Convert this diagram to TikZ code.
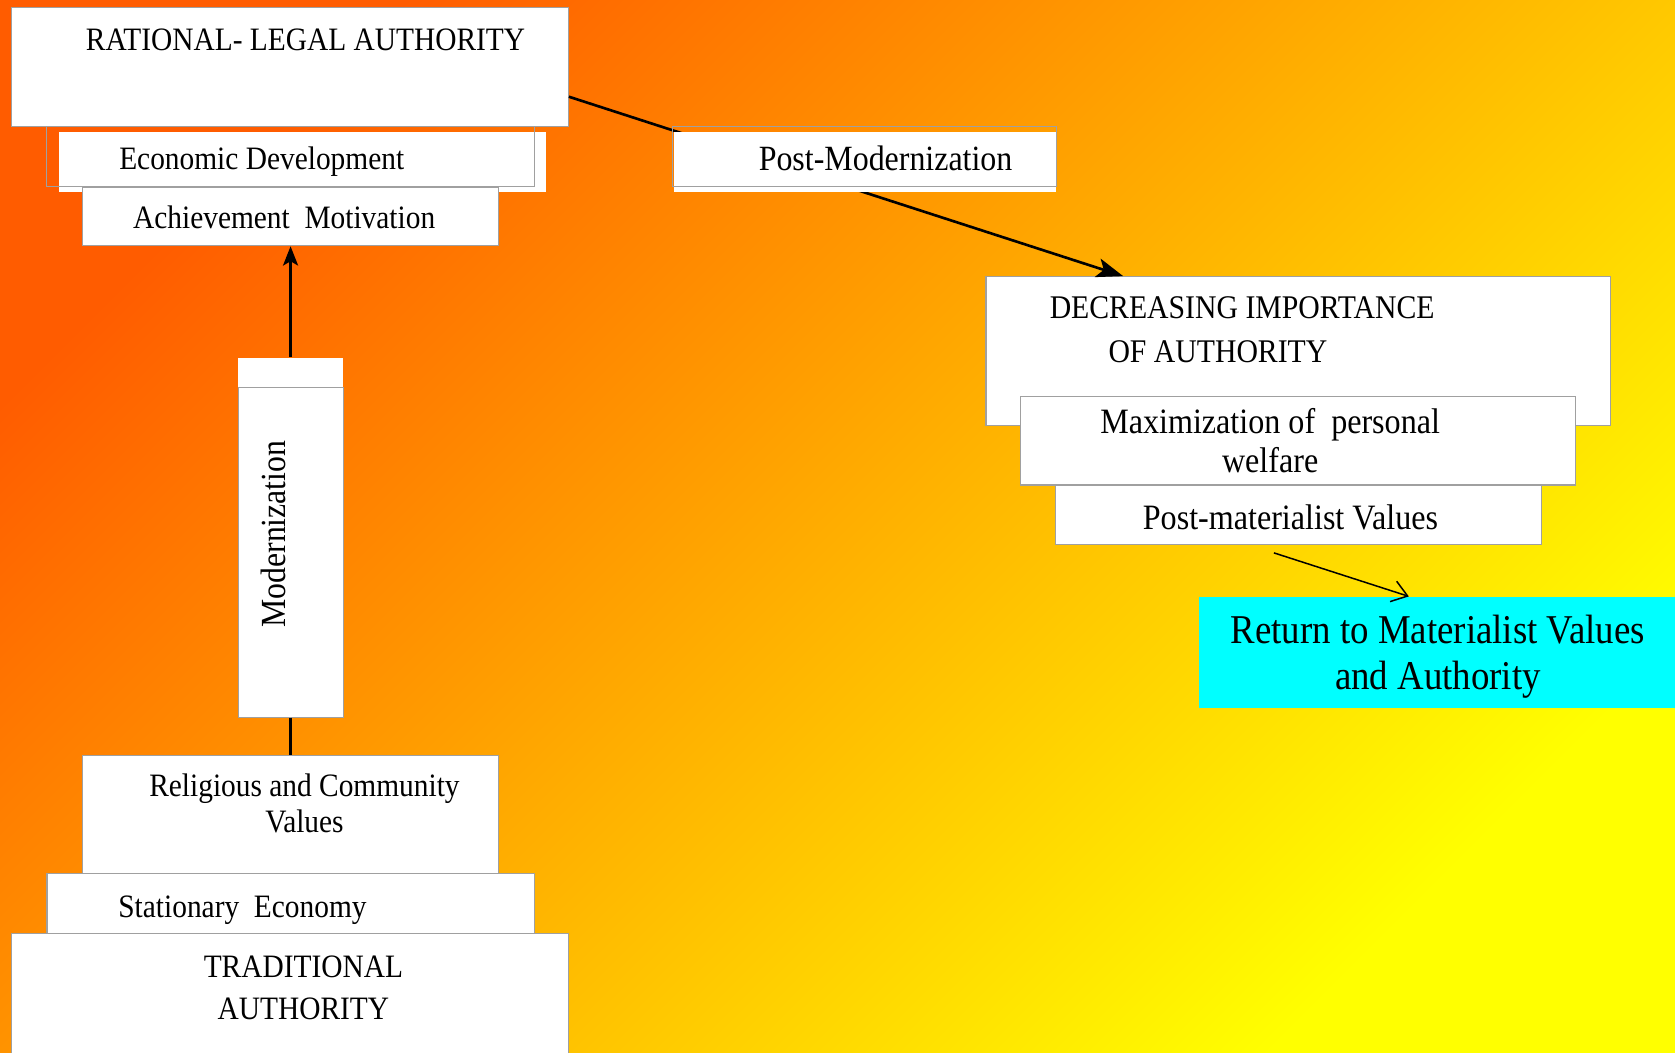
\documentclass[tikz,border=0pt]{standalone}
\usepackage{fontspec}
\setmainfont{Liberation Serif}[FakeStretch=0.9]
\usetikzlibrary{arrows.meta,calc,fit}
\definecolor{bgred}{HTML}{FF5C00}
\definecolor{bgmid}{HTML}{FFC000}
\definecolor{bgyellow}{HTML}{FFFF00}
\definecolor{rimgray}{HTML}{A0A0A0}
\definecolor{retcyan}{HTML}{00FFFF}

\begin{document}
\begin{tikzpicture}[x=0.1mm, y=-0.1mm,
		box/.style={fill=white, draw=rimgray, line width=0.3pt, inner sep=0pt},
		blank/.style={fill=white, inner sep=0pt},
		rim/.style={draw=rimgray, line width=0.3pt},
		lbl/.style={inner sep=0pt, anchor=base, align=center, font=\fontsize{8.7}{9.4}\selectfont},
		link/.style={line width=0.7pt}]
	\clip (0,0) rectangle (1568,985);
	\shade[top color=bgred, middle color=bgmid, bottom color=bgyellow, shading angle=45]
		(0,0) rectangle (1568,985);

	\node[box, fit={(11,7) (532,118)}] (rational) {};
	\node[lbl] (rationallbl) at (286,47) {RATIONAL- LEGAL AUTHORITY};

	\node[box, fit={(923,259) (1508,398)}] (decr) {};
	\node[lbl, anchor=base west, align=left, font=\fontsize{8.8}{11.7}\selectfont] (decrlbl) at (982,339)
		{DECREASING IMPORTANCE\\\hspace*{5.5mm}OF AUTHORITY};

	\draw[link, -{Stealth[length=2.5mm, width=1.8mm, inset=0.6mm]}]
		($(rational.south east)!0.25!(rational.north east)$) -- ($(decr.north west)!0.22!(decr.north east)$);

	\node[blank, fit={(631,124) (989,180)}] (postmod) {};
	\draw[rim] ($(postmod.north west)+(-1,-5)$) rectangle ($(postmod.south east)+(-1,-6)$);
	\node[lbl, font=\fontsize{9.45}{9.4}\selectfont] (postmodlbl) at (829,160) {Post-Modernization};

	\node[blank, fit={(55,124) (511,180)}] (econ) {};
	\draw[rim] ($(econ.north west)+(-11,-5)$) rectangle ($(econ.south east)+(-11,-6)$);
	\node[lbl] (econlbl) at (245,159) {Economic Development};

	\node[box, fit={(77,175) (467,230)}] (achieve) {};
	\node[lbl] (achievelbl) at (266,214) {Achievement\ \ Motivation};

	\node[blank, fit={(223,335) (321,671)}] (modern) {};
	\draw[rim] (223,363) rectangle (modern.south east);
	\node[lbl, anchor=center, rotate=90, font=\fontsize{9.4}{9.4}\selectfont] (modernlbl) at (256,500) {Modernization};

	\node[box, fit={(77,707) (467,818)}] (relig) {};
	\node[lbl] (religlbl) at (285,779) {Religious and Community\\Values};
	\node[box, fit={(44,818) (500,874)}] (station) {};
	\node[lbl] (stationlbl) at (227,859) {Stationary\ \ Economy};
	\node[box, fit={(11,874) (532,1010)}] (trad) {};
	\node[lbl, font=\fontsize{8.7}{11.1}\selectfont] (tradlbl) at (284,954) {TRADITIONAL\\AUTHORITY};

	\draw[link, -{Stealth[length=1.8mm, width=1.4mm, inset=0.4mm]}] (modern.north) -- (achieve.south);
	\draw[link] (modern.south) -- (relig.north);

	\node[box, fit={(955,371) (1475,454)}] (maxim) {};
	\node[lbl, font=\fontsize{9.5}{10.2}\selectfont] (maximlbl) at (1189,442) {Maximization of\ \ personal\\welfare};
	\node[box, fit={(988,454) (1443,510)}] (postmat) {};
	\node[lbl, font=\fontsize{9.5}{9.5}\selectfont] (postmatlbl) at (1208,496) {Post-materialist Values};

	\node[fill=retcyan, inner sep=0pt, fit={(1122,559) (1580,663)}] (ret) {};
	\node[lbl, font=\fontsize{10.9}{12.2}\selectfont] (retlbl) at (1346,645) {Return to Materialist Values\\and Authority};

	\coordinate (pmtail) at ($(postmat.south)+(-23,7)$);
	\draw[line width=0.4pt, -{Straight Barb[length=1.4mm, width=2mm]}]
		(pmtail) -- ($(ret.north west)!0.43!(ret.north east)$);
\end{tikzpicture}
\end{document}
